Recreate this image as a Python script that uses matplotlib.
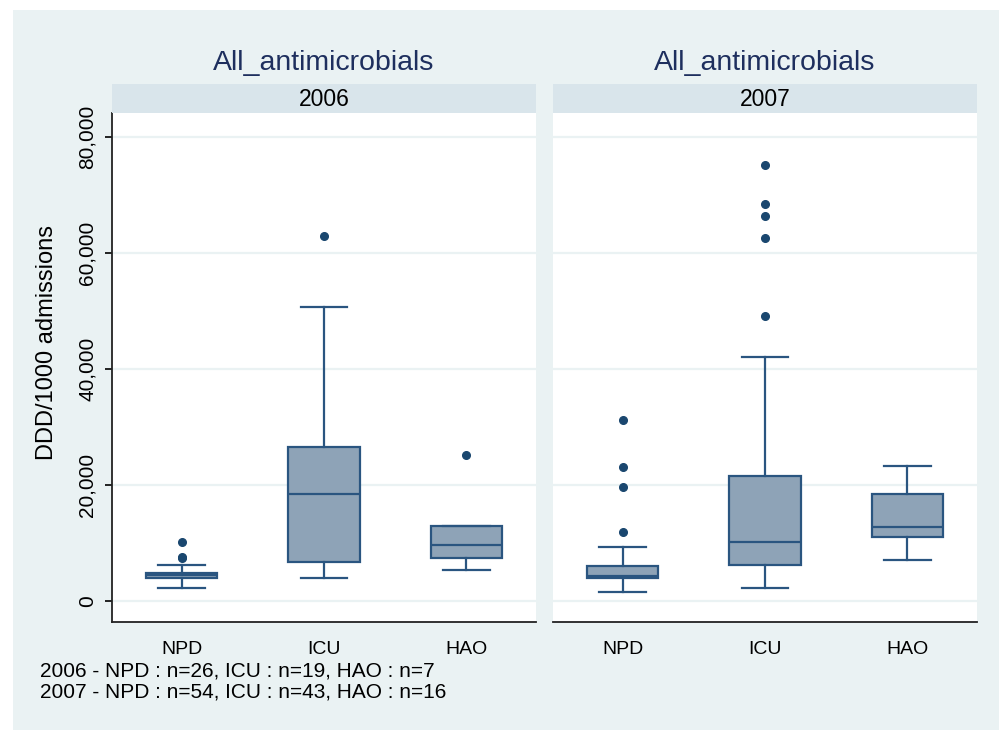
import matplotlib.pyplot as plt
from matplotlib.patches import Rectangle
from matplotlib.ticker import FuncFormatter

plt.rcParams['font.family'] = ['Liberation Sans', 'DejaVu Sans']

# Datos de los diagramas de caja (DDD/1000 ingresos)
years = ['2006', '2007']
categories = ['NPD', 'ICU', 'HAO']

# 2006
q1_2006 = [4020, 6830, 7520]
med_2006 = [4450, 18550, 9710]
q3_2006 = [4930, 26550, 13030]
wlo_2006 = [2340, 4070, 5450]
whi_2006 = [6210, 50740, 13030]
out_2006 = [[7520, 7700, 10170], [62980], [25270]]

# 2007
q1_2007 = [4070, 6210, 11030]
med_2007 = [4310, 10280, 12810]
q3_2007 = [6140, 21650, 18550]
wlo_2007 = [1660, 2340, 7170]
whi_2007 = [9310, 42120, 23380]
out_2007 = [[11900, 19760, 23210, 31210],
            [49160, 62610, 66370, 68410, 75300], []]

notes = ['2006 - NPD : n=26, ICU : n=19, HAO : n=7',
         '2007 - NPD : n=54, ICU : n=43, HAO : n=16']

yticks = [0, 20000, 40000, 60000, 80000]

bg = '#eaf2f3'
strip = '#d9e5eb'
navy = '#1a476f'
fill = '#8ea3b7'
edge = '#2a5580'


def stats(q1, med, q3, wlo, whi, out):
    res = []
    for i in range(len(q1)):
        res.append({'q1': q1[i], 'med': med[i], 'q3': q3[i],
                    'whislo': wlo[i], 'whishi': whi[i], 'fliers': out[i]})
    return res


panels = [stats(q1_2006, med_2006, q3_2006, wlo_2006, whi_2006, out_2006),
          stats(q1_2007, med_2007, q3_2007, wlo_2007, whi_2007, out_2007)]

fig = plt.figure(figsize=(9.99, 7.30), dpi=100)
fig.patch.set_facecolor('white')
fig.patches.append(Rectangle((13 / 999, 0), 1, 720 / 730, transform=fig.transFigure,
                             facecolor=bg, edgecolor='none', zorder=-10))

lefts = [112 / 999, 553 / 999]
w = 424 / 999
bottom = (730 - 622) / 730
h = (622 - 113) / 730
sh = 29 / 730

for k, st in enumerate(panels):
    ax = fig.add_axes([lefts[k], bottom, w, h])
    ax.set_facecolor('white')
    ax.bxp(st, positions=[1, 2, 3], widths=0.5, capwidths=0.33, patch_artist=True,
           boxprops=dict(facecolor=fill, edgecolor=edge, linewidth=1.6),
           medianprops=dict(color=edge, linewidth=1.6),
           whiskerprops=dict(color=edge, linewidth=1.6),
           capprops=dict(color=edge, linewidth=1.6),
           flierprops=dict(marker='o', markerfacecolor=navy, markeredgecolor=navy,
                           markersize=5.5))
    ax.set_xlim(0.51, 3.49)
    ax.set_ylim(-3570, 84180)
    ax.set_yticks(yticks)
    ax.grid(axis='y', color=bg, linewidth=1.6)
    ax.set_axisbelow(True)
    ax.set_xticks([1, 2, 3])
    ax.set_xticklabels(categories, fontsize=14)
    ax.tick_params(axis='x', length=0, pad=14)
    for s in ['top', 'right']:
        ax.spines[s].set_visible(False)
    ax.spines['bottom'].set_color('#222222')
    ax.spines['bottom'].set_linewidth(1.3)
    if k == 0:
        ax.spines['left'].set_color('#222222')
        ax.spines['left'].set_linewidth(1.3)
        ax.yaxis.set_major_formatter(FuncFormatter(lambda v, p: f'{int(v):,}'))
        ax.tick_params(axis='y', length=5, width=1.2, labelsize=15, pad=6)
        for t in ax.get_yticklabels():
            t.set_rotation(90)
            t.set_va('center')
        ax.set_ylabel('DDD/1000 admissions', fontsize=17)
        ax.yaxis.set_label_coords(-0.128, 0.55)
    else:
        ax.spines['left'].set_visible(False)
        ax.tick_params(axis='y', length=0, labelleft=False)

    # franja de cabecera con el año
    sax = fig.add_axes([lefts[k], bottom + h, w, sh])
    sax.set_facecolor(strip)
    sax.set_xticks([])
    sax.set_yticks([])
    for s in sax.spines.values():
        s.set_visible(False)
    sax.text(0.5, 0.45, years[k], ha='center', va='center', fontsize=16.5,
             transform=sax.transAxes)
    fig.text(lefts[k] + w / 2, (730 - 63) / 730, 'All_antimicrobials', ha='center',
             va='center', fontsize=20.5, color='#1e2f5e')

fig.text(40 / 999, (730 - 671) / 730, notes[0], fontsize=15, va='center')
fig.text(40 / 999, (730 - 692) / 730, notes[1], fontsize=15, va='center')

fig.savefig('out.png', dpi=100)
